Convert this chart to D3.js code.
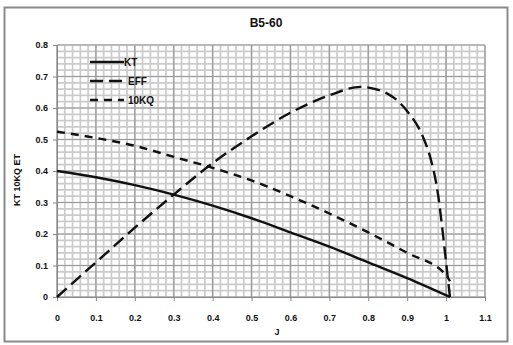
<!DOCTYPE html>
<html>
<head>
<meta charset="utf-8">
<script src="https://cdn.jsdelivr.net/npm/d3@7"></script>
<style>
  body { margin: 0; background: #fff; }
  svg text { font-family: "Liberation Sans", Arial, sans-serif; font-weight: bold; fill: #111; }
</style>
</head>
<body>
<svg id="chart" width="513" height="345"></svg>
<script>
// values
const jKT = [0, 0.1, 0.2, 0.3, 0.4, 0.5, 0.6, 0.7, 0.8, 0.9, 1.01];
const kt = [0.40, 0.38, 0.355, 0.325, 0.29, 0.25, 0.205, 0.16, 0.11, 0.06, 0.0];

const jEFF = [0, 0.1, 0.2, 0.3, 0.4, 0.5, 0.6, 0.7, 0.78, 0.85, 0.9, 0.94, 0.96, 0.98, 0.99, 1.0, 1.01];
const eff = [0, 0.11, 0.22, 0.325, 0.425, 0.51, 0.585, 0.64, 0.667, 0.645, 0.59, 0.51, 0.44, 0.32, 0.22, 0.11, 0.0];

const jKQ = [0, 0.1, 0.2, 0.3, 0.4, 0.5, 0.6, 0.7, 0.8, 0.9, 1.0, 1.01];
const kq10 = [0.525, 0.505, 0.48, 0.445, 0.41, 0.37, 0.32, 0.265, 0.205, 0.14, 0.07, 0.05];

const xTicks = [0, 0.1, 0.2, 0.3, 0.4, 0.5, 0.6, 0.7, 0.8, 0.9, 1, 1.1];
const yTicks = [0, 0.1, 0.2, 0.3, 0.4, 0.5, 0.6, 0.7, 0.8];
const seriesNames = ['KT', 'EFF', '10KQ'];

const margin = { top: 45, right: 28, bottom: 48, left: 57 };
const W = 513, H = 345;
const width = W - margin.left - margin.right;
const height = H - margin.top - margin.bottom;

const svg = d3.select('#chart');

// outer frame
svg.append('rect')
  .attr('x', 4.5).attr('y', 7.5)
  .attr('width', 503).attr('height', 334)
  .attr('fill', '#fff')
  .attr('stroke', '#8a8a8a')
  .attr('stroke-width', 2);

const g = svg.append('g')
  .attr('transform', 'translate(' + margin.left + ',' + margin.top + ')');

const x = d3.scaleLinear().domain([0, 1.1]).range([0, width]);
const y = d3.scaleLinear().domain([0, 0.8]).range([height, 0]);

// minor grid
const minorX = d3.range(0, 1.1001, 0.02);
const minorY = d3.range(0, 0.8001, 0.02);
g.append('g').selectAll('line').data(minorX).enter().append('line')
  .attr('x1', (d) => x(d)).attr('x2', (d) => x(d))
  .attr('y1', 0).attr('y2', height)
  .attr('stroke', '#cbcbcb').attr('stroke-width', 1.7);
g.append('g').selectAll('line').data(minorY).enter().append('line')
  .attr('y1', (d) => y(d)).attr('y2', (d) => y(d))
  .attr('x1', 0).attr('x2', width)
  .attr('stroke', '#cbcbcb').attr('stroke-width', 1.7);

// major grid
g.append('g').selectAll('line').data(xTicks).enter().append('line')
  .attr('x1', (d) => x(d)).attr('x2', (d) => x(d))
  .attr('y1', 0).attr('y2', height)
  .attr('stroke', '#9a9a9a').attr('stroke-width', 1.2);
g.append('g').selectAll('line').data(yTicks).enter().append('line')
  .attr('y1', (d) => y(d)).attr('y2', (d) => y(d))
  .attr('x1', 0).attr('x2', width)
  .attr('stroke', '#9a9a9a').attr('stroke-width', 1.2);

// axes
const xAxis = g.append('g')
  .attr('transform', 'translate(0,' + height + ')')
  .call(d3.axisBottom(x).tickValues(xTicks).tickFormat(d3.format('')).tickSize(4).tickPadding(14));
const yAxis = g.append('g')
  .call(d3.axisLeft(y).tickValues(yTicks).tickFormat(d3.format('')).tickSize(4).tickPadding(5));
[xAxis, yAxis].forEach((a) => {
  a.select('.domain').attr('stroke', '#888');
  a.selectAll('.tick line').attr('stroke', '#888');
  a.selectAll('text').style('font-size', '9px').style('font-family', '"Liberation Sans", Arial, sans-serif').style('font-weight', 'bold').attr('fill', '#111');
});

// curves
const line = d3.line()
  .x((d) => x(d[0]))
  .y((d) => y(d[1]))
  .curve(d3.curveMonotoneX);

const series = [
  { name: seriesNames[0], pts: d3.zip(jKT, kt), dash: null },
  { name: seriesNames[1], pts: d3.zip(jEFF, eff), dash: '13,6' },
  { name: seriesNames[2], pts: d3.zip(jKQ, kq10), dash: '8,6' },
];

series.forEach((s) => {
  g.append('path')
    .attr('d', line(s.pts))
    .attr('fill', 'none')
    .attr('stroke', '#111')
    .attr('stroke-width', 2.4)
    .attr('stroke-dasharray', s.dash);
});

// legend
const legend = g.append('g').attr('transform', 'translate(33,17)');
series.forEach((s, i) => {
  const row = legend.append('g').attr('transform', 'translate(0,' + i * 19 + ')');
  row.append('line')
    .attr('x1', 0).attr('x2', 34)
    .attr('stroke', '#111').attr('stroke-width', 2.4)
    .attr('stroke-dasharray', s.dash);
  row.append('text')
    .attr('x', i === 0 ? 34 : 38).attr('y', 3.5)
    .style('font-size', '10px')
    .text(s.name);
});

// title and axis labels
svg.append('text')
  .attr('x', 266).attr('y', 27)
  .attr('text-anchor', 'middle')
  .style('font-size', '12px')
  .text('B5-60');

svg.append('text')
  .attr('x', 277).attr('y', 335)
  .attr('text-anchor', 'middle')
  .style('font-size', '9px')
  .text('J');

svg.append('text')
  .attr('transform', 'translate(20,180) rotate(-90)')
  .attr('text-anchor', 'middle')
  .style('font-size', '9px')
  .text('KT 10KQ ET');
</script>
</body>
</html>
